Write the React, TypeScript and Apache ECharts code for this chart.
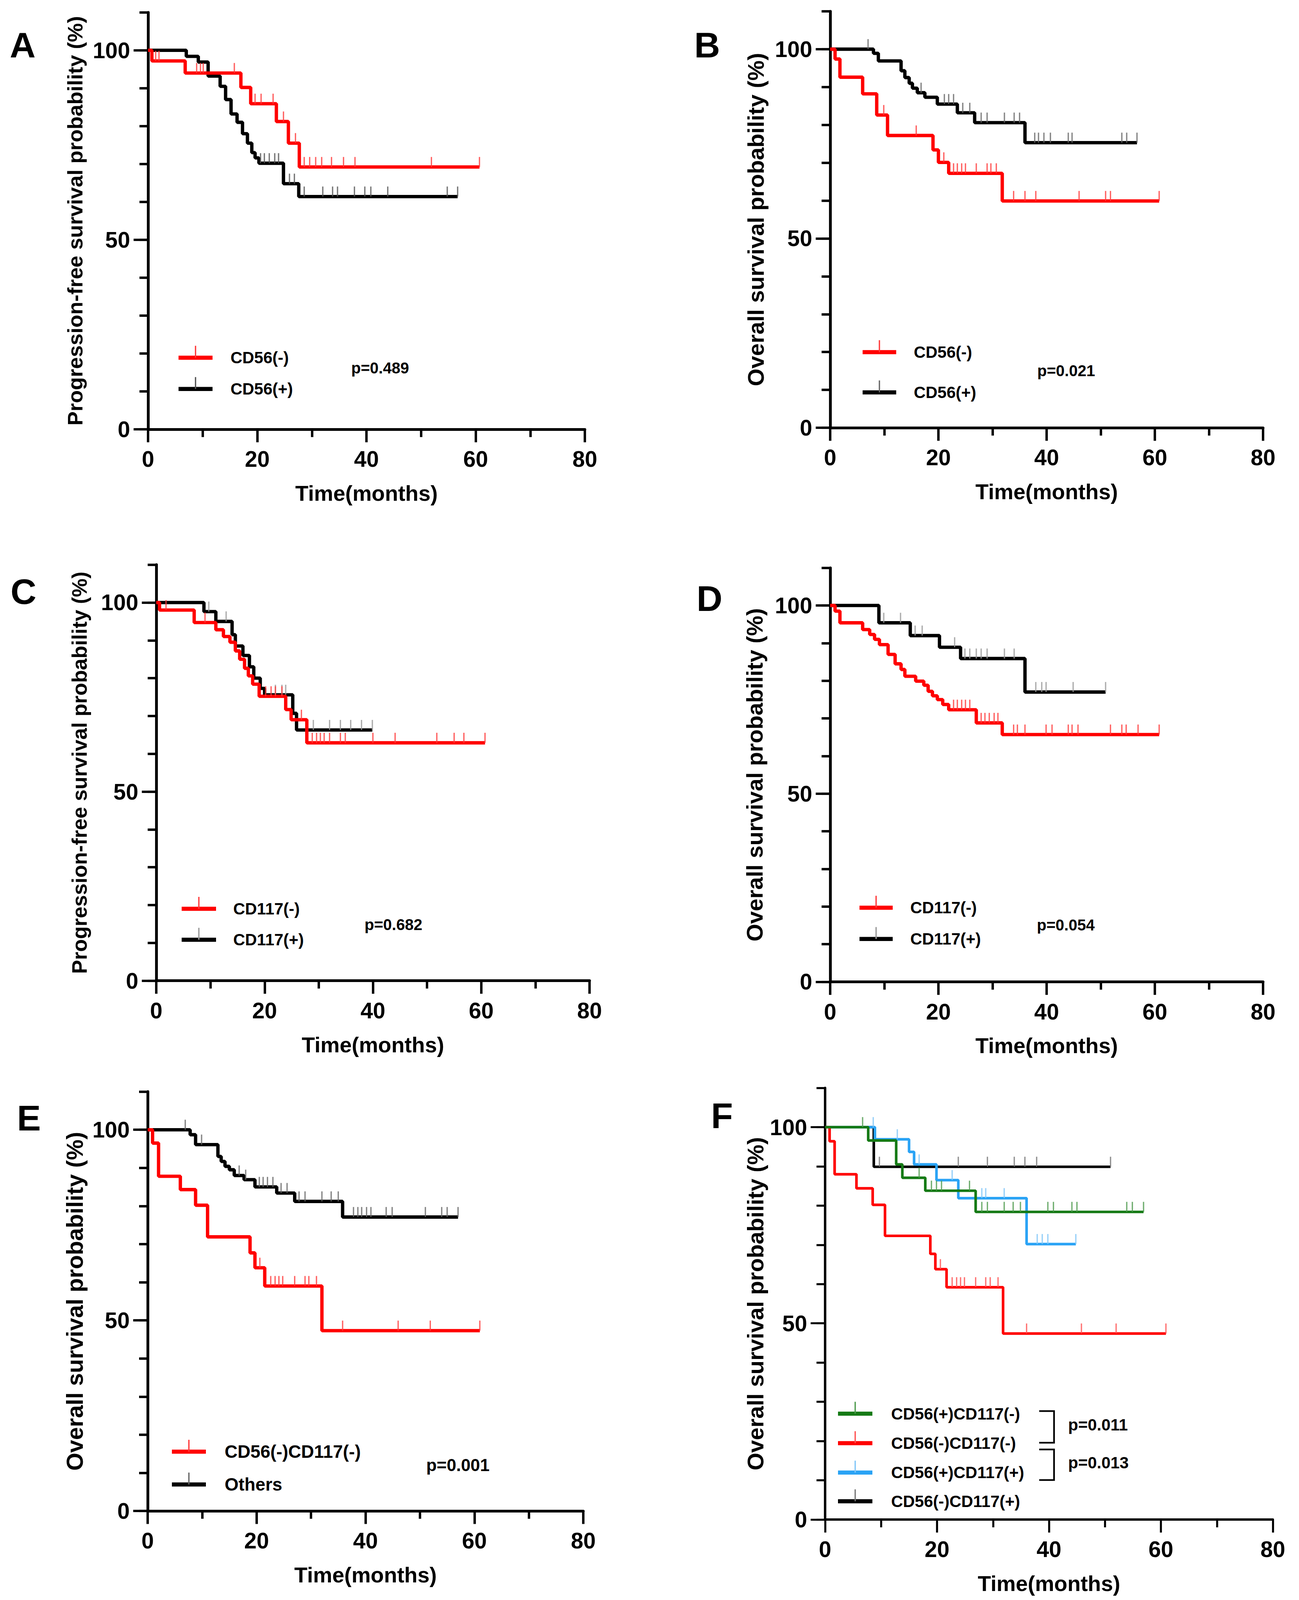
import React, { useEffect, useRef, useState } from "react";
import * as echarts from "echarts";

const FONT = "'Liberation Sans', Arial, Helvetica, sans-serif";
const REF_W = 3325;
const REF_H = 4294;

// ---------- axis ticks ----------
const X_TICKS = [0, 20, 40, 60, 80];
const Y_TICKS = [0, 50, 100];

// ---------- Panel A : PFS, CD56 ----------
const A_NEG_STEPS = [[0, 100], [0.7, 97.2], [6.8, 94], [17, 90.2], [18.8, 85.9], [23.5, 81.2], [25.7, 75.5], [27.7, 69.2]];
const A_NEG_END = 60.7;
const A_NEG_CENSOR = [1.4, 2.0, 8.9, 9.6, 10.1, 15.8, 19.6, 20.7, 22.9, 24.8, 27, 28.6, 29.6, 30.7, 31.8, 33.6, 35.8, 37.9, 51.9, 60.7];
const A_POS_STEPS = [[0, 100], [7, 98.4], [9.2, 96.9], [11, 93.2], [13.2, 90.5], [14.2, 87], [15.2, 83.2], [16.3, 81], [17.3, 78], [18.2, 75.5], [19, 73], [19.6, 71.6], [20.3, 70.2], [24.8, 64.8], [27.6, 61.4]];
const A_POS_END = 56.7;
const A_POS_CENSOR = [20.6, 21.3, 22.2, 23.2, 23.9, 25.9, 26.8, 28.6, 32, 33.8, 34.7, 37.8, 39.7, 40.8, 43.9, 54.8, 56.7];

// ---------- Panel B : OS, CD56 ----------
const B_NEG_STEPS = [[0, 100], [0.9, 97.4], [1.8, 92.6], [6, 88.2], [8.6, 82.6], [10.6, 77.2], [19, 73.4], [20, 70.1], [21.9, 67.2], [31.8, 59.9]];
const B_NEG_END = 60.8;
const B_NEG_CENSOR = [9.9, 15.9, 21, 22.8, 23.5, 24.3, 25, 27, 29, 29.7, 30.7, 33.9, 36, 38, 46, 50.9, 51.8, 60.8];
const B_POS_STEPS = [[0, 100], [8, 98.9], [8.9, 96.9], [13.1, 94.3], [13.8, 92.5], [14.6, 91], [15.2, 89.7], [16.1, 88.5], [17.5, 87.3], [19.8, 85.5], [23.5, 83.2], [26.7, 80.6], [36, 75.3]];
const B_POS_END = 56.7;
const B_POS_CENSOR = [7, 16.8, 21.1, 21.9, 22.8, 24.5, 25.8, 27.9, 29, 32.2, 34, 35, 37.8, 38.5, 39.5, 40.7, 44, 44.7, 53.9, 54.8, 56.7];

// ---------- Panel C : PFS, CD117 ----------
const C_NEG_STEPS = [[0, 100], [0.6, 98], [7, 94.7], [11, 92.8], [12.4, 91], [13.6, 89.5], [14.6, 87.2], [15.4, 85], [16.3, 82.6], [17, 80.6], [17.8, 78.4], [19, 75.2], [23.9, 71.7], [24.9, 69], [27.8, 62.9]];
const C_NEG_END = 60.7;
const C_NEG_CENSOR = [1.8, 9, 20.2, 21.2, 22, 23.2, 26.8, 28.8, 29.6, 30.3, 31, 32, 34, 34.9, 40, 44.1, 51.8, 55, 56.8, 60.7];
const C_POS_STEPS = [[0, 100], [8.8, 97.6], [11, 95], [14, 91.5], [14.6, 88.5], [16, 86], [17.2, 83], [18, 80], [19.2, 77.3], [20, 75.6], [25.2, 70.7], [25.9, 66.3]];
const C_POS_END = 39.9;
const C_POS_CENSOR = [9.7, 12.9, 22, 23.2, 23.9, 29, 32, 34, 35.9, 37.9, 39.9];

// ---------- Panel D : OS, CD117 ----------
const D_NEG_STEPS = [[0, 100], [0.9, 98.5], [1.8, 95.4], [6, 93.6], [7.3, 92.3], [8.2, 91], [9.1, 89.6], [10.7, 87], [12, 84.5], [13.1, 83], [13.8, 81.2], [15.8, 79.9], [17.3, 78.8], [18.1, 77.2], [18.9, 76], [19.8, 75], [20.8, 73.7], [21.9, 72.3], [27, 68.8], [31.8, 65.7]];
const D_NEG_END = 60.8;
const D_NEG_CENSOR = [22.8, 23.5, 24.3, 25, 25.8, 27.9, 28.6, 29.4, 30.3, 31, 33.9, 34.6, 36, 39.9, 41, 44, 44.7, 45.8, 51.8, 53.9, 54.7, 56.9, 60.8];
const D_POS_STEPS = [[0, 100], [9, 95.4], [14.8, 92], [20.2, 88.9], [24.1, 85.9], [36, 77]];
const D_POS_END = 50.9;
const D_POS_CENSOR = [9.9, 13, 15.7, 17, 23, 24.9, 25.8, 27, 27.9, 29, 32.2, 34, 38, 39.1, 39.9, 44.9, 50.9];

// ---------- Panel E : OS, CD56(-)CD117(-) vs others ----------
const E_DN_STEPS = [[0, 100], [0.9, 96.5], [2, 87.8], [6, 84.3], [8.8, 80.2], [11, 71.9], [18.8, 67.7], [19.7, 63.8], [21.5, 59], [32, 47.3]];
const E_DN_END = 61;
const E_DN_CENSOR = [20.6, 22.6, 23.4, 24.1, 24.8, 27, 28.9, 29.6, 31, 35.8, 46, 51.9, 61];
const E_OT_STEPS = [[0, 100], [7.8, 98.7], [8.8, 96.1], [12.9, 93], [13.5, 91.7], [14.2, 90.4], [15, 89.5], [15.9, 88], [17.7, 86.9], [19.7, 85], [23.7, 83.4], [27, 81.2], [35.8, 77.1]];
const E_OT_END = 57;
const E_OT_CENSOR = [6.9, 9.9, 16.8, 18, 20.5, 21.2, 22, 23, 24.5, 25.6, 27.8, 28.9, 32, 33.7, 35, 37.8, 38.6, 39.3, 40.2, 41, 43.8, 44.9, 51, 54, 55, 57];

// ---------- Panel F : OS, four groups ----------
const F_PN_STEPS = [[0, 100], [7.7, 96.6], [12.7, 90.5], [13.8, 87.1], [17.9, 83.8], [26.9, 78.4]];
const F_PN_END = 56.9;
const F_PN_CENSOR = [6.7, 16.8, 19, 19.9, 20.8, 25.8, 28, 29, 32, 33.6, 34.9, 39.8, 40.8, 44.1, 45, 53.9, 54.9, 56.9];
const F_NN_STEPS = [[0, 100], [0.8, 96.4], [1.7, 88], [5.6, 84.4], [8.5, 80.2], [10.7, 72.3], [18.8, 67.7], [19.7, 63.8], [21.7, 59.2], [31.8, 47.4]];
const F_NN_END = 60.9;
const F_NN_CENSOR = [20.6, 22.7, 23.5, 24.2, 24.9, 26.9, 28.7, 29.5, 30.9, 36, 45.8, 52, 60.9];
const F_PP_STEPS = [[0, 100], [8.9, 96.9], [15, 93.7], [15.9, 90.5], [19.9, 86.5], [23.8, 81.9], [36, 70.2]];
const F_PP_END = 44.8;
const F_PP_CENSOR = [8.6, 12.9, 16.8, 22.7, 28, 28.7, 32, 37.9, 38.8, 39.8, 44.8];
const F_NP_STEPS = [[0, 100], [8.7, 89.9]];
const F_NP_END = 51;
const F_NP_CENSOR = [9.7, 23.8, 29, 33.8, 35.7, 37.8, 51];

const P_VALUES = ["p=0.489", "p=0.021", "p=0.682", "p=0.054", "p=0.001"];
const F_P_VALUES = ["p=0.011", "p=0.013"];

const RED = "#ff0000";
const BLACK = "#000000";
const GREEN = "#157a15";
const BLUE = "#2aa3f5";

type Curve = { name: string; steps: number[][]; end: number; censors: number[]; color: string; tick: string };

const PANELS: { letter: string; yName: string; curves: Curve[] }[] = [
  {
    letter: "A", yName: "Progression-free survival probability (%)", curves: [
      { name: "CD56(-)", steps: A_NEG_STEPS, end: A_NEG_END, censors: A_NEG_CENSOR, color: RED, tick: "#ff3a3a" },
      { name: "CD56(+)", steps: A_POS_STEPS, end: A_POS_END, censors: A_POS_CENSOR, color: BLACK, tick: "#555" },
    ]
  },
  {
    letter: "B", yName: "Overall survival probability (%)", curves: [
      { name: "CD56(-)", steps: B_NEG_STEPS, end: B_NEG_END, censors: B_NEG_CENSOR, color: RED, tick: "#ff3a3a" },
      { name: "CD56(+)", steps: B_POS_STEPS, end: B_POS_END, censors: B_POS_CENSOR, color: BLACK, tick: "#666" },
    ]
  },
  {
    letter: "C", yName: "Progression-free survival probability (%)", curves: [
      { name: "CD117(-)", steps: C_NEG_STEPS, end: C_NEG_END, censors: C_NEG_CENSOR, color: RED, tick: "#ff3a3a" },
      { name: "CD117(+)", steps: C_POS_STEPS, end: C_POS_END, censors: C_POS_CENSOR, color: BLACK, tick: "#999" },
    ]
  },
  {
    letter: "D", yName: "Overall survival probability (%)", curves: [
      { name: "CD117(-)", steps: D_NEG_STEPS, end: D_NEG_END, censors: D_NEG_CENSOR, color: RED, tick: "#ff3a3a" },
      { name: "CD117(+)", steps: D_POS_STEPS, end: D_POS_END, censors: D_POS_CENSOR, color: BLACK, tick: "#999" },
    ]
  },
  {
    letter: "E", yName: "Overall survival probability (%)", curves: [
      { name: "CD56(-)CD117(-)", steps: E_DN_STEPS, end: E_DN_END, censors: E_DN_CENSOR, color: RED, tick: "#ff3a3a" },
      { name: "Others", steps: E_OT_STEPS, end: E_OT_END, censors: E_OT_CENSOR, color: BLACK, tick: "#666" },
    ]
  },
  {
    letter: "F", yName: "Overall survival probability (%)", curves: [
      { name: "CD56(+)CD117(-)", steps: F_PN_STEPS, end: F_PN_END, censors: F_PN_CENSOR, color: GREEN, tick: "#4c9a4c" },
      { name: "CD56(-)CD117(-)", steps: F_NN_STEPS, end: F_NN_END, censors: F_NN_CENSOR, color: RED, tick: "#ff5050" },
      { name: "CD56(+)CD117(+)", steps: F_PP_STEPS, end: F_PP_END, censors: F_PP_CENSOR, color: BLUE, tick: "#80c6f8" },
      { name: "CD56(-)CD117(+)", steps: F_NP_STEPS, end: F_NP_END, censors: F_NP_CENSOR, color: BLACK, tick: "#777" },
    ]
  },
];

// ---------- layout (reference pixels) ----------
const LAYOUT = [
  { L: 379, R: 1497, B: 1152, T100: 135, nameFs: 57, nameGap: 160, lx: 58, ly: 121, lw: 9, axw: 7.5,
    legX1: 457, legX2: 544, legRows: [960, 1044], legText: 590, legFs: 44, pX: 899, pY: 988, pFs: 42 },
  { L: 2125, R: 3233, B: 1148, T100: 132, nameFs: 61, nameGap: 162, lx: 1810, ly: 121, lw: 9, axw: 7.5,
    legX1: 2208, legX2: 2294, legRows: [945, 1053], legText: 2339, legFs: 44, pX: 2655, pY: 995, pFs: 42 },
  { L: 400, R: 1509, B: 2632, T100: 1617, nameFs: 56, nameGap: 170, lx: 60, ly: 1587, lw: 9, axw: 7.5,
    legX1: 465, legX2: 553, legRows: [2439, 2522], legText: 597, legFs: 44, pX: 933, pY: 2481, pFs: 42 },
  { L: 2125, R: 3233, B: 2635, T100: 1625, nameFs: 61, nameGap: 165, lx: 1816, ly: 1606, lw: 9, axw: 7.5,
    legX1: 2200, legX2: 2285, legRows: [2436, 2520], legText: 2330, legFs: 44, pX: 2654, pY: 2482, pFs: 42 },
  { L: 378, R: 1493, B: 4055, T100: 3032, nameFs: 62, nameGap: 157, lx: 74, ly: 3000, lw: 9, axw: 7.5,
    legX1: 440, legX2: 527, legRows: [3896, 3984], legText: 575, legFs: 48, pX: 1091, pY: 3932, pFs: 46 },
  { L: 2112, R: 3258, B: 4078, T100: 3025, nameFs: 61, nameGap: 150, lx: 1848, ly: 2994, lw: 7, axw: 6.5,
    legX1: 2145, legX2: 2233, legRows: [3794, 3873, 3952, 4029], legText: 2281, legFs: 44, pX: 2734, pY: 0, pFs: 44 },
];
const F_BRACKETS = [[3787, 3872], [3890, 3972]];
const F_BRACKET_X = 2698;
const F_BRACKET_HX = 2660;

function survAt(steps: number[][], t: number): number {
  let v = steps[0][1];
  for (const s of steps) if (s[0] <= t) v = s[1];
  return v;
}

function buildOption(W: number, H: number) {
  const sx = W / REF_W;
  const sy = H / REF_H;
  const sf = Math.min(sx, sy);
  const X = (v: number) => v * sx;
  const Y = (v: number) => v * sy;
  const F = (v: number) => v * sf;

  const grid: any[] = [];
  const xAxis: any[] = [];
  const yAxis: any[] = [];
  const series: any[] = [];
  const graphic: any[] = [];
  const n = PANELS.length;
  const tickFs = F(60);

  PANELS.forEach((p, i) => {
    const g = LAYOUT[i];
    const top110 = g.B - 1.1 * (g.B - g.T100);
    grid.push({ left: X(g.L), top: Y(top110), width: X(g.R - g.L), height: Y(g.B - top110) });
    xAxis.push({
      gridIndex: i, type: "value", min: X_TICKS[0], max: X_TICKS[X_TICKS.length - 1], interval: X_TICKS[1] - X_TICKS[0],
      axisLine: { show: true, onZero: false, lineStyle: { color: "#000", width: F(g.axw) } },
      axisTick: { show: true, length: Y(35), lineStyle: { color: "#000", width: F(g.axw - 1) } },
      minorTick: { show: true, splitNumber: 2, length: Y(21), lineStyle: { color: "#000", width: F(g.axw - 1) } },
      splitLine: { show: false },
      axisLabel: { fontSize: tickFs, fontWeight: "bold", fontFamily: FONT, color: "#000", margin: Y(50) },
      name: "Time(months)", nameLocation: "middle", nameGap: Y(143),
      nameTextStyle: { fontSize: F(58), fontWeight: "bold", fontFamily: FONT, color: "#000" },
    });
    yAxis.push({
      gridIndex: i, type: "value", min: 0, max: 110, interval: 10,
      axisLine: { show: true, onZero: false, lineStyle: { color: "#000", width: F(g.axw) } },
      axisTick: { show: true, length: X(22), lineStyle: { color: "#000", width: F(g.axw - 1) } },
      axisLabel: { show: false },
      splitLine: { show: false },
      name: p.yName, nameLocation: "middle", nameGap: X(g.nameGap),
      nameTextStyle: { fontSize: F(g.nameFs), fontWeight: "bold", fontFamily: FONT, color: "#000" },
    });

    p.curves.forEach((c, k) => {
      const last = c.steps[c.steps.length - 1][1];
      series.push({
        type: "line", name: c.name, xAxisIndex: i, yAxisIndex: i, step: "end", symbol: "none",
        data: [...c.steps, [c.end, last]], color: c.color,
        lineStyle: { color: c.color, width: F(g.lw) }, silent: true, z: 3 + (p.curves.length - k),
      });
      series.push({
        type: "scatter", name: c.name + " censored", xAxisIndex: i, yAxisIndex: i,
        data: c.censors.map((t) => [t, survAt(c.steps, t)]),
        symbol: "rect", symbolSize: [F(3.5), Y(27)], symbolOffset: [0, -Y(13.5)],
        itemStyle: { color: c.tick }, silent: true, z: 3 + (p.curves.length - k),
      });
    });

    // panel letter
    graphic.push({
      type: "text", x: X(g.lx), y: Y(g.ly),
      style: { text: p.letter, fontSize: F(96), fontWeight: "bold", fontFamily: FONT, fill: "#000", align: "center", verticalAlign: "middle" },
    });
    // legend
    p.curves.forEach((c, k) => {
      const y = Y(g.legRows[k]);
      const mid = X((g.legX1 + g.legX2) / 2);
      graphic.push({ type: "line", shape: { x1: X(g.legX1), y1: y, x2: X(g.legX2), y2: y }, style: { stroke: c.color, lineWidth: F(11) } });
      graphic.push({ type: "line", shape: { x1: mid, y1: y - Y(32), x2: mid, y2: y }, style: { stroke: c.tick, lineWidth: F(3.5) } });
      graphic.push({
        type: "text", x: X(g.legText), y,
        style: { text: c.name, fontSize: F(g.legFs), fontWeight: "bold", fontFamily: FONT, fill: "#000", align: "left", verticalAlign: "middle" },
      });
    });
    if (i < P_VALUES.length) {
      graphic.push({
        type: "text", x: X(g.pX), y: Y(g.pY),
        style: { text: P_VALUES[i], fontSize: F(g.pFs), fontWeight: "bold", fontFamily: FONT, fill: "#000", align: "left", verticalAlign: "middle" },
      });
    }
  });

  // second grids carrying the long ticks + labels of the y axes (0..100)
  PANELS.forEach((p, i) => {
    const g = LAYOUT[i];
    const gi = n + i;
    grid.push({ left: X(g.L), top: Y(g.T100), width: X(g.R - g.L), height: Y(g.B - g.T100) });
    xAxis.push({ gridIndex: gi, type: "value", min: 0, max: 80, show: false });
    yAxis.push({
      gridIndex: gi, type: "value", min: Y_TICKS[0], max: Y_TICKS[Y_TICKS.length - 1], interval: Y_TICKS[1] - Y_TICKS[0],
      axisLine: { show: false, onZero: false },
      axisTick: { show: true, length: X(37), lineStyle: { color: "#000", width: F(g.axw - 1) } },
      axisLabel: { fontSize: tickFs, fontWeight: "bold", fontFamily: FONT, color: "#000", margin: X(46) },
      splitLine: { show: false },
    });
  });

  // brackets for panel F
  const f = LAYOUT[5];
  F_BRACKETS.forEach((b, k) => {
    graphic.push({
      type: "polyline",
      shape: { points: [[X(F_BRACKET_HX), Y(b[0])], [X(F_BRACKET_X), Y(b[0])], [X(F_BRACKET_X), Y(b[1])], [X(F_BRACKET_HX), Y(b[1])]] },
      style: { stroke: "#000", lineWidth: F(4.5), fill: null },
    });
    graphic.push({
      type: "text", x: X(f.pX), y: Y((b[0] + b[1]) / 2 - 6),
      style: { text: F_P_VALUES[k], fontSize: F(f.pFs), fontWeight: "bold", fontFamily: FONT, fill: "#000", align: "left", verticalAlign: "middle" },
    });
  });

  return { animation: false, backgroundColor: "#ffffff", grid, xAxis, yAxis, series, graphic };
}

export default function App() {
  const ref = useRef<HTMLDivElement>(null);
  const [size] = useState(() => {
    const w = typeof window !== "undefined" && window.innerWidth ? Math.min(window.innerWidth, REF_W) : REF_W;
    const h = typeof window !== "undefined" && window.innerHeight ? Math.min(window.innerHeight, REF_H) : REF_H;
    return { w, h };
  });
  useEffect(() => {
    document.body.style.margin = "0";
    document.body.style.overflow = "hidden";
    document.documentElement.style.overflow = "hidden";
    if (!ref.current) return;
    const chart = echarts.init(ref.current, undefined, { renderer: "svg" });
    chart.setOption(buildOption(size.w, size.h) as any);
    return () => chart.dispose();
  }, [size]);
  return <div ref={ref} style={{ position: "absolute", left: 0, top: 0, width: size.w, height: size.h, background: "#fff" }} />;
}
